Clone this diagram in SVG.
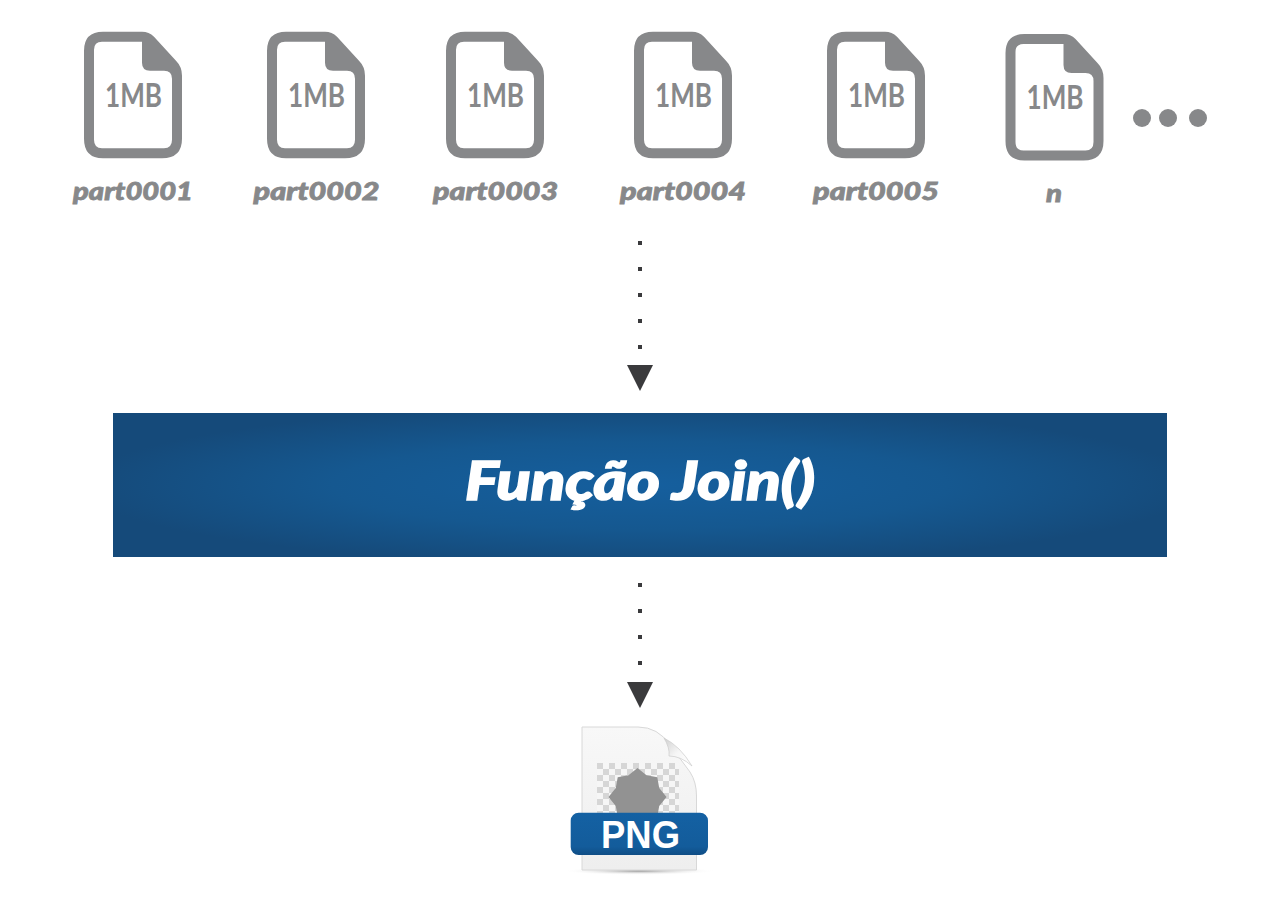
<svg xmlns="http://www.w3.org/2000/svg" xmlns:xlink="http://www.w3.org/1999/xlink" width="1280" height="905" viewBox="0 0 1280 905">
<style>
.ic{fill:#87888a;fill-rule:evenodd}
.mb{font:700 33px Lato,"Liberation Sans",sans-serif;fill:#87888a;text-anchor:middle}
.lb{font:italic 900 25.500px Lato,"Liberation Sans",sans-serif;fill:#87888a;stroke:#87888a;stroke-width:.8;text-anchor:middle}
.cn{stroke:#3a3a3c;stroke-width:4;stroke-dasharray:4 22;fill:none}
.dot{fill:#87888a}
</style>
<defs>
<path id="file" d="M19 0H58Q65 0 70 5L92 29Q98 35 98 44V107Q98 126.500 78 126.500H19Q0 126.500 0 107V19Q0 0 19 0ZM18 10Q10 10 10 18V108Q10 116.500 18 116.500H80Q88 116.500 88 108V47Q88 39 80 39H66Q58 39 58 31V10Z"/>
<marker id="arr" markerUnits="userSpaceOnUse" markerWidth="28" markerHeight="28" refX="1" refY="14" orient="auto" viewBox="0 0 28 28"><path d="M1 1L27 14L1 27Z" fill="#3a3a3c"/></marker>
<radialGradient id="bar" gradientUnits="userSpaceOnUse" cx="640" cy="485" r="1" gradientTransform="translate(640 485) scale(560 80) translate(-640 -485)">
<stop offset="0" stop-color="#155f9e"/><stop offset=".55" stop-color="#155890"/><stop offset="1" stop-color="#154a7a"/>
</radialGradient>
<linearGradient id="ban" x1="0" y1="0" x2="0" y2="1"><stop offset="0" stop-color="#1461a3"/><stop offset=".8" stop-color="#135c9b"/><stop offset="1" stop-color="#0f4d85"/></linearGradient>
<linearGradient id="pg" x1="0" y1="0" x2="0" y2="1"><stop offset="0" stop-color="#f8f8f8"/><stop offset="1" stop-color="#eeeeee"/></linearGradient>
<linearGradient id="fold" x1="0" y1="0" x2="1" y2="1"><stop offset="0" stop-color="#cfcfcf"/><stop offset=".5" stop-color="#f6f6f6"/><stop offset="1" stop-color="#ffffff"/></linearGradient>
<radialGradient id="sh" cx=".5" cy=".5" r=".5"><stop offset="0" stop-color="#9a9a9a"/><stop offset="1" stop-color="#fff" stop-opacity="0"/></radialGradient>
<pattern id="chk" patternUnits="userSpaceOnUse" x="597" y="763" width="12" height="12">
<rect width="12" height="12" fill="#f6f6f6"/><rect width="6" height="6" fill="#d6d6d6"/><rect x="6" y="6" width="6" height="6" fill="#d6d6d6"/>
</pattern>
</defs>
<rect width="1280" height="905" fill="#fff"/>
<g id="part0001"><use xlink:href="#file" href="#file" class="ic" x="84" y="31.700"/><text class="mb" x="133.500" y="107" textLength="57" lengthAdjust="spacingAndGlyphs">1MB</text><text class="lb" x="133" y="200" textLength="120" lengthAdjust="spacingAndGlyphs">part0001</text></g>
<g id="part0002"><use xlink:href="#file" href="#file" class="ic" x="267" y="31.700"/><text class="mb" x="316.500" y="107" textLength="57" lengthAdjust="spacingAndGlyphs">1MB</text><text class="lb" x="316.500" y="200" textLength="126" lengthAdjust="spacingAndGlyphs">part0002</text></g>
<g id="part0003"><use xlink:href="#file" href="#file" class="ic" x="446" y="31.700"/><text class="mb" x="495.500" y="107" textLength="57" lengthAdjust="spacingAndGlyphs">1MB</text><text class="lb" x="495.500" y="200" textLength="125" lengthAdjust="spacingAndGlyphs">part0003</text></g>
<g id="part0004"><use xlink:href="#file" href="#file" class="ic" x="634" y="31.700"/><text class="mb" x="683.500" y="107" textLength="57" lengthAdjust="spacingAndGlyphs">1MB</text><text class="lb" x="683" y="200" textLength="126" lengthAdjust="spacingAndGlyphs">part0004</text></g>
<g id="part0005"><use xlink:href="#file" href="#file" class="ic" x="827" y="31.700"/><text class="mb" x="876.500" y="107" textLength="57" lengthAdjust="spacingAndGlyphs">1MB</text><text class="lb" x="876" y="200" textLength="126" lengthAdjust="spacingAndGlyphs">part0005</text></g>
<g id="partn"><use xlink:href="#file" href="#file" class="ic" x="1005.500" y="34"/><text class="mb" x="1055" y="109" textLength="57" lengthAdjust="spacingAndGlyphs">1MB</text><text class="lb" x="1054" y="202" textLength="16" lengthAdjust="spacingAndGlyphs">n</text></g>
<g id="ellipsis"><circle class="dot" cx="1142" cy="118" r="9"/><circle class="dot" cx="1168" cy="118" r="9"/><circle class="dot" cx="1198" cy="118" r="9"/></g>
<g id="connectors">
<line class="cn" x1="640" y1="241" x2="640" y2="365" marker-end="url(#arr)"/>
<line class="cn" x1="640" y1="583" x2="640" y2="682" marker-end="url(#arr)"/>
</g>
<g id="join">
<rect x="113" y="413" width="1054" height="144" fill="url(#bar)"/>
<text x="640" y="500" text-anchor="middle" textLength="350" lengthAdjust="spacingAndGlyphs" style="font:italic 900 54px Lato,'Liberation Sans',sans-serif;fill:#fff;stroke:#fff;stroke-width:1.600">Função Join()</text>
</g>
<g id="png">
<ellipse cx="639" cy="871" rx="76" ry="4" fill="url(#sh)"/>
<path d="M582 727H638Q658 727 670 745L690 772Q696.500 782 696.500 796V870H582Z" fill="url(#pg)" stroke="#d8d8d8"/>
<rect x="597" y="763" width="82" height="52" fill="url(#chk)"/>
<polygon fill="#929292" points="637.500,768 646.500,775.300 657.300,777.200 659.200,788 666.500,797 659.200,806 657.300,816.800 646.500,818.700 637.500,826 628.500,818.700 617.700,816.800 615.800,806 608.500,797 615.800,788 617.700,777.200 628.500,775.300"/>
<path d="M664 738Q670 748 669 756Q681 756 692 766Q680 746 664 738Z" fill="url(#fold)" stroke="#cccccc" stroke-width=".7"/>
<rect x="570.700" y="812.700" width="137.300" height="42.300" rx="8" fill="url(#ban)"/>
<text x="640.500" y="848" text-anchor="middle" textLength="79" lengthAdjust="spacingAndGlyphs" style="font:700 38px 'Liberation Sans',Arial,sans-serif;fill:#fff">PNG</text>
</g>
</svg>
